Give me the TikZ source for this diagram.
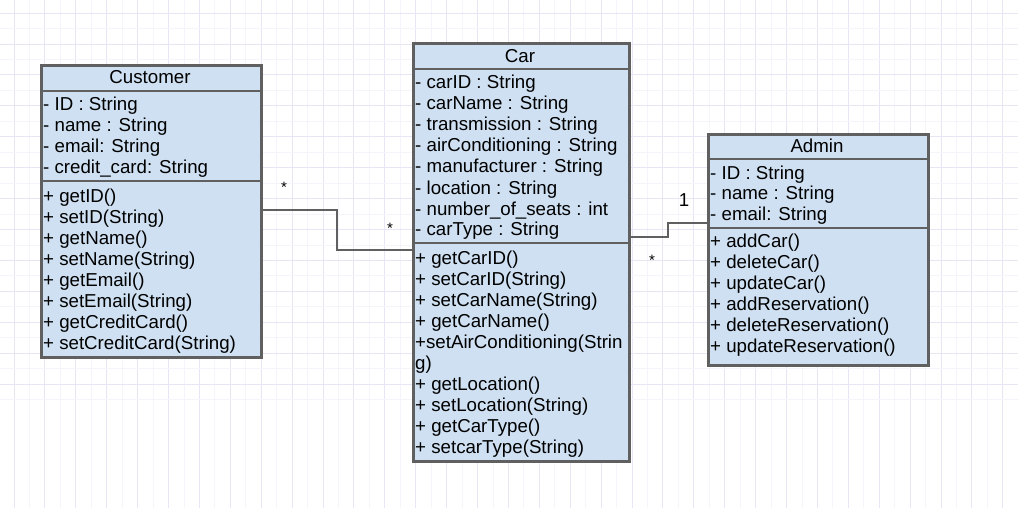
\documentclass[tikz,border=0pt]{standalone}
\usepackage{fontspec}
\setmainfont{Liberation Sans}
\definecolor{boxfill}{RGB}{206,224,242}
\definecolor{boxline}{RGB}{96,96,96}
\definecolor{gridmajor}{RGB}{230,230,245}
\definecolor{gridminor}{RGB}{244,244,251}
\tikzset{
  cls/.style={draw=boxline, fill=boxfill, line width=2.8pt, anchor=north west, inner sep=0pt},
  sepline/.style={draw=boxline, line width=2.8pt},
  txt/.style={anchor=base west, inner sep=0pt, font=\fontsize{18.7}{21}\selectfont},
  ttl/.style={anchor=base, inner sep=0pt, font=\fontsize{18.7}{21}\selectfont},
  conn/.style={draw=boxline, line width=2.8pt},
  mult/.style={inner sep=0pt, font=\fontsize{15}{16}\selectfont},
  multn/.style={inner sep=0pt, font=\fontsize{18.7}{20}\selectfont}
}
\begin{document}
\begin{tikzpicture}[x=1pt,y=-1pt]
\fill[white] (0,0) rectangle (1018,508);
\useasboundingbox (0,0) rectangle (1018,508);
% grid
\foreach \i in {0,...,33} {
  \draw[gridminor, line width=0.8pt] ({14+30.9*\i-15.45},0) -- ({14+30.9*\i-15.45},508);
  \draw[gridmajor, line width=1pt] ({14+30.9*\i},0) -- ({14+30.9*\i},508);
}
\foreach \i in {0,...,17} {
  \draw[gridminor, line width=0.8pt] (0,{384-30.9*\i+15.45}) -- (1018,{384-30.9*\i+15.45});
  \draw[gridmajor, line width=1pt] (0,{384-30.9*\i}) -- (1018,{384-30.9*\i});
}
% Customer
\node[cls, minimum width=220pt, minimum height=292pt] (cust) at (40,64) {};
\draw[sepline] (cust.west |- 0,91) -- (cust.east |- 0,91);
\draw[sepline] (cust.west |- 0,181) -- (cust.east |- 0,181);
\node[ttl] (custT) at (150,84) {Customer};
\foreach \t [count=\i] in {- ID : String, - name : String, - email: String, - credit\_card: String}
  \node[txt] (ca\i) at (43,{111+21*(\i-1)}) {\t};
\foreach \t [count=\i] in {+ getID(), + setID(String), + getName(), + setName(String), + getEmail(), + setEmail(String), + getCreditCard(), + setCreditCard(String)}
  \node[txt] (cm\i) at (43,{202+21*(\i-1)}) {\t};
% Car
\node[cls, minimum width=216pt, minimum height=418pt] (car) at (412,42) {};
\draw[sepline] (car.west |- 0,69) -- (car.east |- 0,69);
\draw[sepline] (car.west |- 0,243) -- (car.east |- 0,243);
\node[ttl] (carT) at (520,63) {Car};
\foreach \t [count=\i] in {- carID : String, - carName : String, - transmission : String, - airConditioning : String, - manufacturer : String, - location : String, - number\_of\_seats : int, - carType : String}
  \node[txt] (ra\i) at (415,{89+21*(\i-1)}) {\t};
\foreach \t [count=\i] in {+ getCarID(), + setCarID(String), + setCarName(String), + getCarName(), +setAirConditioning(Strin, g), + getLocation(), + setLocation(String), + getCarType(), + setcarType(String)}
  \node[txt] (rm\i) at (415,{264+21*(\i-1)}) {\t};
% Admin
\node[cls, minimum width=220pt, minimum height=231pt] (admin) at (707,133) {};
\draw[sepline] (admin.west |- 0,159) -- (admin.east |- 0,159);
\draw[sepline] (admin.west |- 0,228) -- (admin.east |- 0,228);
\node[ttl] (admT) at (817,153) {Admin};
\foreach \t [count=\i] in {- ID : String, - name : String, - email: String}
  \node[txt] (aa\i) at (710,{179+21*(\i-1)}) {\t};
\foreach \t [count=\i] in {+ addCar(), + deleteCar(), + updateCar(), + addReservation(), + deleteReservation(), + updateReservation()}
  \node[txt] (am\i) at (710,{247+21*(\i-1)}) {\t};
% connectors
\draw[conn] (cust.east |- 0,210) -- (337,210) |- (car.west |- 0,250);
\draw[conn] (car.east |- 0,237) -- (668,237) |- (admin.west |- 0,223);
\node[mult] (m1) at (284,187) {*};
\node[mult] (m2) at (390,228) {*};
\node[multn] (m3) at (684,200) {1};
\node[mult] (m4) at (652,260) {*};
\end{tikzpicture}
\end{document}
